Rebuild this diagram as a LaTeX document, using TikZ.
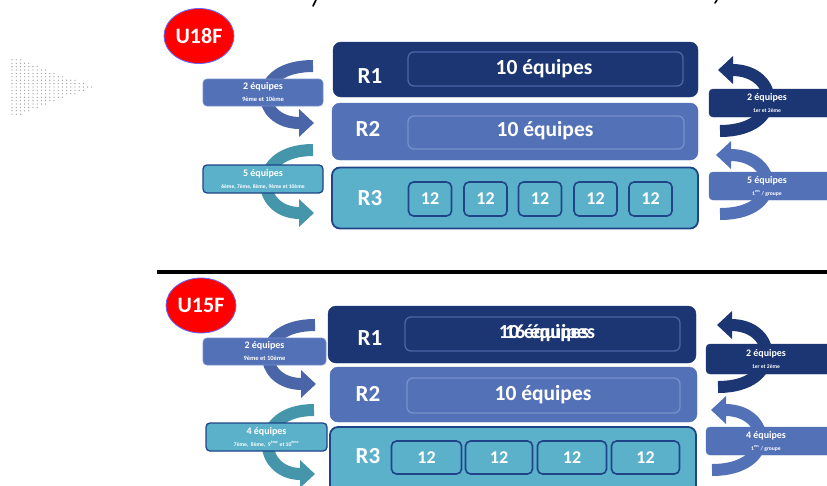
\documentclass[tikz,border=0pt]{standalone}
\usepackage{fontspec}
\setmainfont{Carlito}
\usetikzlibrary{arrows.meta,shapes.geometric}
\definecolor{navy}{HTML}{1B3673}
\definecolor{navyline}{HTML}{1F4488}
\definecolor{midblue}{HTML}{5371B7}
\definecolor{tealbox}{HTML}{5BB1C9}
\definecolor{tealdark}{HTML}{4596AB}
\definecolor{inone}{HTML}{4A66A8}
\definecolor{intwo}{HTML}{7690CC}
\newcommand\hdfont{\fontsize{10}{11}\selectfont\bfseries}
\newcommand\sbfont{\fontsize{6.5}{7}\selectfont\bfseries}
\newcommand\tinyfont{\fontsize{5.6}{6.5}\selectfont\bfseries}
\begin{document}
\begin{tikzpicture}[x=1pt,y=-1pt,
  lvl/.style={rounded corners=8pt, inner sep=0pt},
  lvlone/.style={lvl, fill=navy, draw=navy},
  lvltwo/.style={lvl, fill=midblue, draw=midblue},
  lvlthree/.style={lvl, fill=tealbox, draw=navyline, line width=1.8pt},
  inbox/.style={rounded corners=6pt, draw=#1, line width=1.3pt, inner sep=0pt},
  bigtxt/.style={text=white, font=\fontsize{21.5}{24}\selectfont\bfseries, inner sep=0pt},
  twelve/.style={rounded corners=5pt, fill=tealbox, draw=navyline, line width=1.6pt, inner sep=0pt, text=white, font=\fontsize{18}{20}\selectfont\bfseries},
  rlab/.style={text=white, font=\fontsize{23}{26}\selectfont\bfseries, inner sep=0pt},
  badge/.style={ellipse, fill=red, draw=blue!60, line width=0.8pt, minimum width=70pt, minimum height=55pt, inner sep=0pt, text=white, font=\fontsize{22}{26}\selectfont\bfseries},
  bendarrow/.style={line width=12pt, draw=#1, -{Triangle[width=27pt,length=15pt,fill=#1]}},
  lbox/.style={rounded corners=4pt, inner sep=0pt, fill=#1},
  ltxt/.style={text=white, align=center, inner sep=0pt}
]
\clip (0,0) rectangle (827,485);
\fill[white] (0,0) rectangle (827,485);

% cut title fragments
\draw[line width=1.6pt, line cap=round] (316,0) -- (313,6);
\draw[line width=1.6pt, line cap=round] (717,0) -- (715,3);

% dotted triangle
\foreach \i in {0,...,19}{
  \pgfmathsetmacro\h{30*(1-\i/19)}
  \foreach \k in {-9,...,9}{
    \pgfmathtruncatemacro\ok{abs(3.4*\k)<=\h+0.5 ? 1 : 0}
    \ifnum\ok=1 \fill[gray!80] (12+4.2*\i, 87+3.4*\k) circle (0.65pt); \fi
  }
}

%================ U18F =================
\node[badge] (u18) at (199,36) {U18F};

% arrows (behind labels)
\coordinate (a1s) at (313,66); \coordinate (a1e) at (314,123);
\draw[bendarrow=inone] (a1s) .. controls (250,66) and (255,123) .. (a1e);
\coordinate (a2s) at (313,150); \coordinate (a2e) at (314,213);
\draw[bendarrow=tealdark] (a2s) .. controls (250,150) and (255,213) .. (a2e);
\coordinate (a3s) at (720,131); \coordinate (a3e) at (718,70);
\draw[bendarrow=navy] (a3s) .. controls (785,131) and (780,70) .. (a3e);
\coordinate (a4s) at (720,214); \coordinate (a4e) at (716,155);
\draw[bendarrow=midblue] (a4s) .. controls (785,214) and (778,155) .. (a4e);

% levels
\node[lvlone, minimum width=365pt, minimum height=55pt] (r1a) at (515.5,69.5) {};
\node[inbox=inone, minimum width=275pt, minimum height=34pt] (i1a) at (545.5,69) {};
\node[bigtxt] (t1a) at (544,68.5) {10 équipes};
\node[rlab] (l1a) at (370,76) {R1};

\node[lvltwo, minimum width=366pt, minimum height=57pt] (r2a) at (515,131.5) {};
\node[inbox=intwo, minimum width=276pt, minimum height=33pt] (i2a) at (546,132.5) {};
\node[bigtxt] (t2a) at (545,131) {10 équipes};
\node[rlab] (l2a) at (368,129) {R2};

\node[lvlthree, minimum width=366pt, minimum height=61pt] (r3a) at (515,198) {};
\node[rlab] (l3a) at (370,198) {R3};
\foreach \x [count=\n] in {430,485.5,540,595.5,650.5}
  \node[twelve, minimum width=43pt, minimum height=34pt] (g\n a) at (\x,199) {12};

% label boxes
\node[lbox=midblue, draw=intwo, line width=0.6pt, minimum width=120pt, minimum height=27pt] (b1a) at (263,92.5) {};
\node[ltxt] (c1a) at (b1a) {{\hdfont 2 équipes}\\[0pt]{\sbfont 9ème et 10ème}};
\node[lbox=tealbox, draw=navyline, line width=1.3pt, minimum width=120pt, minimum height=28pt] (b2a) at (263,179) {};
\node[ltxt] (c2a) at (b2a) {{\hdfont 5 équipes}\\[0pt]{\tinyfont 6ème, 7ème, 8ème, 9ème et 10ème}};
\node[lbox=navy, draw=navy, minimum width=126pt, minimum height=28pt] (b3a) at (772,103) {};
\node[ltxt] (c3a) at (767,103) {{\hdfont 2 équipes}\\[0pt]{\tinyfont 1er et 2ème}};
\node[lbox=midblue, draw=midblue, minimum width=126pt, minimum height=28pt] (b4a) at (772,186) {};
\node[ltxt] (c4a) at (767,186) {{\hdfont 5 équipes}\\[0pt]{\tinyfont 1\textsuperscript{ers} / groupe}};

% separator
\coordinate (s1) at (157,272); \coordinate (s2) at (830,272);
\draw[line width=3.5pt] (s1) -- (s2);

%================ U15F =================
\node[badge] (u15) at (201,305.5) {U15F};

\coordinate (b1s) at (315,325); \coordinate (b1e) at (316,384);
\draw[bendarrow=inone] (b1s) .. controls (252,325) and (257,384) .. (b1e);
\coordinate (b2s) at (314,410); \coordinate (b2e) at (315,474);
\draw[bendarrow=tealdark] (b2s) .. controls (252,410) and (257,474) .. (b2e);
\coordinate (b3s) at (718,387); \coordinate (b3e) at (717,325);
\draw[bendarrow=navy] (b3s) .. controls (783,387) and (778,325) .. (b3e);
\coordinate (b4s) at (712,470); \coordinate (b4e) at (711,410);
\draw[bendarrow=midblue] (b4s) .. controls (777,470) and (772,410) .. (b4e);

\node[lvlone, minimum width=368pt, minimum height=57pt] (r1b) at (512,334.5) {};
\node[inbox=inone, minimum width=275pt, minimum height=34pt] (i1b) at (542.5,334) {};
\node[bigtxt, font=\fontsize{20}{22}\selectfont\bfseries] (t1b) at (544,333) {10 équipes};
\node[bigtxt, font=\fontsize{20}{22}\selectfont\bfseries] (t1c) at (550,333) {16 équipes};
\node[rlab] (l1b) at (370,338) {R1};

\node[lvltwo, minimum width=367pt, minimum height=55pt] (r2b) at (513.5,394.5) {};
\node[inbox=intwo, minimum width=273pt, minimum height=35pt] (i2b) at (543.5,395.5) {};
\node[bigtxt] (t2b) at (543,395) {10 équipes};
\node[rlab] (l2b) at (368,394) {R2};

\node[lvlthree, minimum width=366pt, minimum height=70pt] (r3b) at (513,462) {};
\node[rlab] (l3b) at (368,456) {R3};
\node[twelve, minimum width=70pt, minimum height=33pt] (g1b) at (426.5,457.5) {12};
\node[twelve, minimum width=67pt, minimum height=33pt] (g2b) at (499,457.5) {12};
\node[twelve, minimum width=69pt, minimum height=33pt] (g3b) at (572,457.5) {12};
\node[twelve, minimum width=68pt, minimum height=33pt] (g4b) at (645.5,457.5) {12};

\node[lbox=midblue, draw=intwo, line width=0.6pt, minimum width=123pt, minimum height=27pt] (b1b) at (264.5,351.5) {};
\node[ltxt] (c1b) at (b1b) {{\hdfont 2 équipes}\\[0pt]{\sbfont 9ème et 10ème}};
\node[lbox=tealbox, draw=navyline, line width=1.3pt, minimum width=121pt, minimum height=28pt] (b2b) at (266.5,437) {};
\node[ltxt] (c2b) at (b2b) {{\hdfont 4 équipes}\\[0pt]{\tinyfont 7ème,\ \ 8ème,\ \ 9\textsuperscript{ème} et 10\textsuperscript{ème}}};
\node[lbox=navy, draw=navy, minimum width=130pt, minimum height=30pt] (b3b) at (771,359) {};
\node[ltxt] (c3b) at (766,359) {{\hdfont 2 équipes}\\[0pt]{\tinyfont 1er et 2ème}};
\node[lbox=midblue, draw=midblue, minimum width=130pt, minimum height=28pt] (b4b) at (771,441) {};
\node[ltxt] (c4b) at (766,441) {{\hdfont 4 équipes}\\[0pt]{\tinyfont 1\textsuperscript{ers} / groupe}};
\end{tikzpicture}
\end{document}
